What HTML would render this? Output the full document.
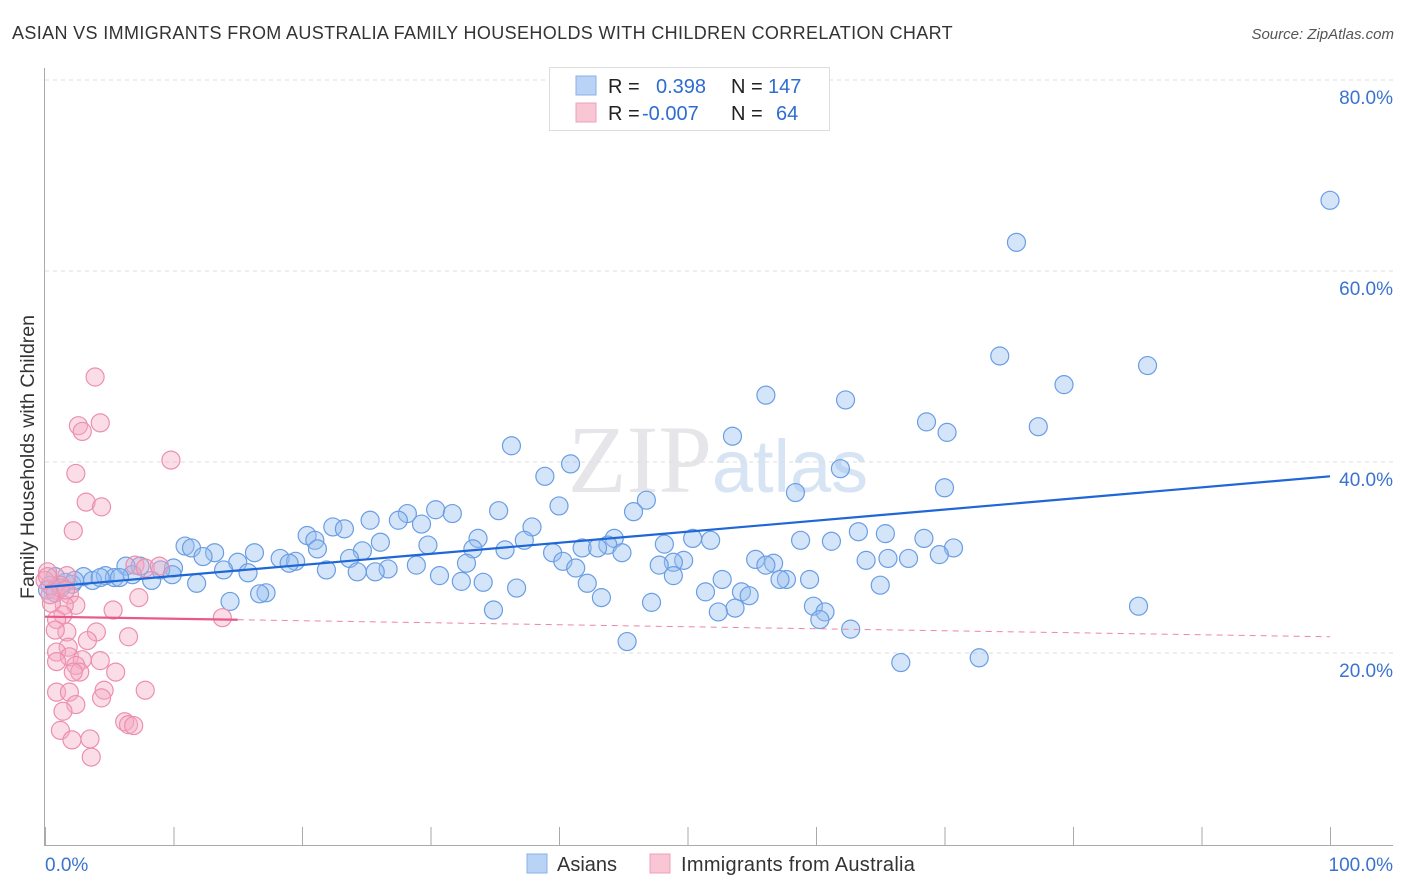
<!DOCTYPE html>
<html><head><meta charset="utf-8"><style>
body{margin:0;background:#fff;font-family:"Liberation Sans",sans-serif}
#wrap{position:relative;width:1406px;height:892px;overflow:hidden}
</style></head><body>
<div id="wrap">
<svg id="svg" width="1406" height="892" xmlns="http://www.w3.org/2000/svg" font-family="Liberation Sans, sans-serif">
<text x="12" y="39" font-size="18" fill="#333" letter-spacing="0.36">ASIAN VS IMMIGRANTS FROM AUSTRALIA FAMILY HOUSEHOLDS WITH CHILDREN CORRELATION CHART</text>
<text x="1394" y="39" font-size="15" fill="#555" font-style="italic" text-anchor="end">Source: ZipAtlas.com</text>
<text transform="translate(34,457) rotate(-90)" font-size="19.5" fill="#333" text-anchor="middle">Family Households with Children</text>
<text x="718" y="492" font-size="96" fill="#e6e6ea" text-anchor="middle" font-family="Liberation Serif, serif">ZIP<tspan fill="#d6e4f4" font-family="Liberation Sans, sans-serif" font-size="74">atlas</tspan></text>
<g id="grid"></g><g id="axes"></g><g id="pts"></g><g id="lines"></g>
<g>
<rect x="549.5" y="67.5" width="280" height="63" fill="#fff" stroke="#ddd"/>
<rect x="576" y="76" width="20" height="19" fill="#b8d3f5" stroke="#8ab0e8"/>
<rect x="576" y="103" width="20" height="19" fill="#f9c6d6" stroke="#eda0b8"/>
<text x="608" y="93" font-size="20" fill="#222">R = <tspan x="656" fill="#2e6ccf">0.398</tspan><tspan x="731" fill="#222">N = </tspan><tspan x="768" fill="#2e6ccf">147</tspan></text>
<text x="608" y="120" font-size="20" fill="#222">R = <tspan x="642" fill="#2e6ccf">-0.007</tspan><tspan x="731" fill="#222">N = </tspan><tspan x="776" fill="#2e6ccf">64</tspan></text>
</g>
<g>
<rect x="527" y="854" width="20" height="19" fill="#b8d3f5" stroke="#8ab0e8"/>
<text x="557" y="871" font-size="20" fill="#333">Asians</text>
<rect x="650" y="854" width="20" height="19" fill="#f9c6d6" stroke="#eda0b8"/>
<text x="681" y="871" font-size="20" fill="#333" letter-spacing="0.3">Immigrants from Australia</text>
</g>
</svg></div>
<script>
const yTicks=[20,40,60,80];
const xTickLabels=["0.0%","100.0%"];
const asianX=[100,75.6,74.3,85.8,79.3,56.1,62.3,68.6,70.2,77.3,53.5,36.3,61.9,40.9,38.9,70.0,58.4,46.8,40.0,45.8,35.3,30.4,31.7,28.2,25.3,27.5,29.3,22.4,23.3,37.9,44.3,63.3,65.4,20.4,33.7,37.3,50.4,51.8,68.4,58.8,61.2,26.1,21.0,29.8,48.2,43.8,41.8,43.0,70.7,21.2,10.9,11.4,33.3,35.8,24.7,13.2,16.3,44.9,39.5,69.6,12.3,18.3,19.5,23.7,55.3,65.6,67.2,63.9,49.7,48.9,19.0,15.0,28.9,56.7,56.1,40.3,32.8,47.8,41.3,10.0,7.4,6.3,26.7,21.9,25.7,24.3,9.0,15.8,13.9,9.9,6.8,4.7,5.4,3.0,30.7,48.9,52.7,57.7,59.5,57.2,32.4,34.1,42.2,8.3,3.7,11.8,65.0,36.7,17.2,16.7,51.4,54.2,54.8,43.3,14.4,47.2,59.8,85.1,53.7,60.7,52.4,34.9,60.3,62.7,45.3,72.7,66.6,0.8,1.6,2.1,0.4,1.2,0.2,2.3,4.3,5.8,0.8];
const asianY=[67.4,63.0,51.1,50.1,48.1,47.0,46.5,44.2,43.1,43.7,42.7,41.7,39.3,39.8,38.5,37.3,36.8,36.0,35.4,34.8,34.9,35.0,34.6,34.6,33.9,33.9,33.5,33.2,33.0,33.2,32.0,32.7,32.5,32.3,32.0,31.8,32.0,31.8,32.0,31.8,31.7,31.6,31.8,31.3,31.4,31.3,31.0,31.0,31.0,30.9,31.2,31.0,30.9,30.8,30.7,30.5,30.5,30.5,30.5,30.3,30.1,29.9,29.6,29.9,29.8,29.9,29.9,29.7,29.7,29.5,29.4,29.5,29.2,29.4,29.2,29.6,29.4,29.2,28.9,28.9,29.1,29.1,28.8,28.7,28.5,28.5,28.7,28.4,28.7,28.2,28.2,28.1,27.9,28.0,28.1,28.1,27.7,27.7,27.7,27.7,27.5,27.4,27.3,27.6,27.6,27.3,27.1,26.8,26.3,26.2,26.4,26.4,26.0,25.8,25.4,25.3,24.9,24.9,24.7,24.3,24.3,24.5,23.5,22.5,21.2,19.5,19.0,28.0,27.4,27.2,27.1,26.8,26.6,27.6,27.9,27.9,26.3];
const ausX=[3.9,4.3,2.6,2.9,9.8,2.4,3.2,4.4,2.2,7.0,7.8,8.9,0.2,1.7,0,0.8,1.9,7.3,2.4,1.5,0.5,5.3,1.4,0.9,13.8,1.7,4.0,0.8,6.5,3.3,1.8,0.9,1.9,2.9,4.3,0.9,2.4,2.7,5.5,2.2,4.6,7.8,0.9,1.9,4.4,2.4,1.4,6.2,6.5,6.9,1.2,3.5,2.1,3.6,1.2,1.6,0.4,0.2];
const ausY=[48.9,44.1,43.8,43.2,40.2,38.8,35.8,35.3,32.8,29.2,28.9,29.1,28.5,28.1,27.6,26.6,26.1,25.8,25.0,25.0,25.2,24.5,24.0,23.5,23.7,22.2,22.2,22.4,21.7,21.3,20.6,20.1,19.6,19.3,19.2,19.1,18.7,18.0,18.0,18.0,16.1,16.1,15.9,15.9,15.3,14.6,13.9,12.8,12.5,12.4,11.9,11.0,10.9,9.1,27.1,26.6,26.1,28.0];
const asianTrend=[26.9,38.5];
const ausTrend=[23.8,21.7];
const NS="http://www.w3.org/2000/svg";
const X=v=>45+v*12.85, Y=v=>844-v*9.55;
function mk(t,a,p){const e=document.createElementNS(NS,t);for(const k in a)e.setAttribute(k,a[k]);document.getElementById(p).appendChild(e);return e;}
yTicks.forEach(t=>{
 const l=mk('line',{x1:45,x2:1393,y1:Y(t),y2:Y(t),stroke:'#ddd','stroke-dasharray':'4,4'},'grid');
 
 
 const tx=mk('text',{x:1393,y:Y(t)+24,'font-size':19,fill:'#3a73cf','text-anchor':'end'},'grid');
 tx.textContent=t.toFixed(1)+'%';
 
 
});
mk('line',{x1:44.5,x2:44.5,y1:68,y2:845,stroke:'#aaa'},'axes');
const xa=mk('line',{x1:44,x2:1393,y1:845.5,y2:845.5,stroke:'#aaa'},'axes');


for(let i=0;i<=10;i++){mk('line',{x1:X(i*10)+0.5,x2:X(i*10)+0.5,y1:827,y2:845,stroke:'#aaa'},'axes');}
xTickLabels.forEach((s,i)=>{const t=mk('text',{x:i?1393:45,y:871,'font-size':19,fill:'#3a73cf','text-anchor':i?'end':'start'},'axes');t.textContent=s;
 
 });
asianX.forEach((x,i)=>{const c=mk('circle',{cx:X(x),cy:Y(asianY[i]),r:9,fill:'rgba(150,190,240,0.4)',stroke:'#6a9ee3','stroke-width':1.2},'pts');
 
 });
ausX.forEach((x,i)=>{const c=mk('circle',{cx:X(x),cy:Y(ausY[i]),r:9,fill:'rgba(245,170,195,0.4)',stroke:'#ec8fae','stroke-width':1.2},'pts');
 
 });
const bl=mk('line',{x1:X(0),y1:Y(asianTrend[0]),x2:X(100),y2:Y(asianTrend[1]),stroke:'#1f66d6','stroke-width':2.2},'lines');


const f=v=>ausTrend[0]+(ausTrend[1]-ausTrend[0])*v/100;
const pl=mk('line',{x1:X(0),y1:Y(f(0)),x2:X(15),y2:Y(f(15)),stroke:'#e8588a','stroke-width':2.2},'lines');


const pd=mk('line',{x1:X(15),y1:Y(f(15)),x2:X(100),y2:Y(f(100)),stroke:'#ec86a6','stroke-width':1,'stroke-dasharray':'6,5'},'lines');


</script>
</body></html>
